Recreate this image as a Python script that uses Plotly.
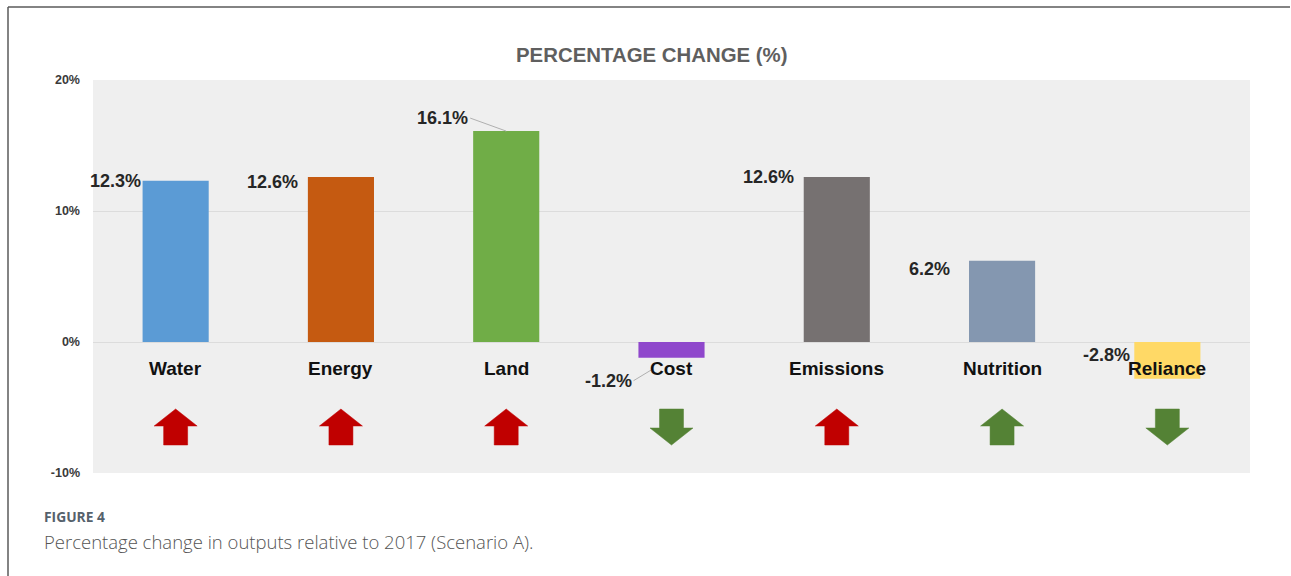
import plotly.graph_objects as go

# ---- data -------------------------------------------------------------
categories = ["Water", "Energy", "Land", "Cost", "Emissions", "Nutrition", "Reliance"]
pct_change = [12.3, 12.6, 16.1, -1.2, 12.6, 6.2, -2.8]
value_labels = ["12.3%", "12.6%", "16.1%", "-1.2%", "12.6%", "6.2%", "-2.8%"]
trend = ["up", "up", "up", "down", "up", "up", "down"]
trend_good = [False, False, False, True, False, True, True]
y_ticks = [-10, 0, 10, 20]
y_tick_text = ["-10%", "0%", "10%", "20%"]

# ---- styling ----------------------------------------------------------
bar_colors = ["#5B9BD5", "#C55A11", "#70AD47", "#8F47CC", "#767171", "#8497B0", "#FFD966"]
RED = "#C00000"
GREEN = "#548235"
# label offsets in px (x shift, y shift) relative to the bar's outer corner
label_shift = [(0, 0), (-8, -5), (-3, 13), (-5, -23), (-8, 0), (-17, -8), (-2, 24)]

W, H = 1291, 576
M = dict(l=93, r=41, t=80, b=103)
PW = W - M["l"] - M["r"]
PH = H - M["t"] - M["b"]
X_RANGE = [-0.5, len(categories) - 0.5]
Y_RANGE = [-10, 20]
x_per_px = (X_RANGE[1] - X_RANGE[0]) / PW
y_per_px = (Y_RANGE[1] - Y_RANGE[0]) / PH
BAR_W = 0.4

xs = list(range(len(categories)))

fig = go.Figure()
fig.add_trace(go.Bar(
    x=xs, y=pct_change, width=BAR_W,
    marker=dict(color=bar_colors, line=dict(width=0)),
    hoverinfo="skip", showlegend=False,
))

BOLD = "Liberation Sans"
annotations = []

# value labels, sitting to the left of each bar
for i, (v, txt, (dx, dy)) in enumerate(zip(pct_change, value_labels, label_shift)):
    if i in (2, 3):
        continue
    annotations.append(dict(
        x=i - BAR_W / 2, y=v, xref="x", yref="y", text=txt, showarrow=False,
        xanchor="right", yanchor="middle", xshift=dx, yshift=dy,
        font=dict(family=BOLD, size=18, color="#262626", weight="bold"),
    ))

# labels with leader lines
annotations.append(dict(
    x=2, y=pct_change[2], xref="x", yref="y", text=value_labels[2],
    showarrow=True, arrowhead=0, arrowwidth=1, arrowcolor="#b0b0b0",
    ax=-36, ay=-13, xanchor="right", yanchor="middle", standoff=0,
    font=dict(family=BOLD, size=18, color="#262626", weight="bold"),
))
annotations.append(dict(
    x=3, y=pct_change[3], xref="x", yref="y", text=value_labels[3],
    showarrow=True, arrowhead=0, arrowwidth=1, arrowcolor="#b0b0b0",
    ax=-38, ay=23, xanchor="right", yanchor="middle", standoff=24,
    font=dict(family=BOLD, size=18, color="#262626", weight="bold"),
))

# category names just below the zero line
for i, c in enumerate(categories):
    annotations.append(dict(
        x=i, y=0, xref="x", yref="y", text=c, showarrow=False,
        yanchor="middle", yshift=-26,
        font=dict(family=BOLD, size=19, color="#111111", weight="bold"),
    ))

# chart heading
annotations.append(dict(
    x=(652 - M["l"]) / PW, y=(PH + M["t"] - 55) / PH, xref="paper", yref="paper",
    text="PERCENTAGE CHANGE (%)", showarrow=False, xanchor="center", yanchor="middle",
    font=dict(family=BOLD, size=20.4, color="#5f5f5f", weight="bold"),
))

# figure caption
annotations.append(dict(
    x=(42 - M["l"]) / PW, y=(PH + M["t"] - 516) / PH, xref="paper", yref="paper",
    text="FIGURE 4", showarrow=False, xanchor="left", yanchor="middle",
    font=dict(family="Open Sans", size=13.8, color="#55616c", weight="bold"),
))
annotations.append(dict(
    x=(42 - M["l"]) / PW, y=(PH + M["t"] - 541) / PH, xref="paper", yref="paper",
    text="Percentage change in outputs relative to 2017 (Scenario A).", showarrow=False,
    xanchor="left", yanchor="middle",
    font=dict(family="Open Sans", size=18.5, color="#555555", weight=300),
))

# trend arrows under each category
shapes = []
ARROW_TOP_PX, HEAD_PX, ARROW_LEN_PX = 67, 17, 36
HALF_W_PX, SHAFT_HALF_PX = 21.5, 12
for i, (d, good) in enumerate(zip(trend, trend_good)):
    hw = HALF_W_PX * x_per_px
    sw = SHAFT_HALF_PX * x_per_px
    top = -ARROW_TOP_PX * y_per_px
    bot = -(ARROW_TOP_PX + ARROW_LEN_PX) * y_per_px
    if d == "up":
        neck = top - HEAD_PX * y_per_px
        pts = [(i, top), (i + hw, neck), (i + sw, neck), (i + sw, bot),
               (i - sw, bot), (i - sw, neck), (i - hw, neck)]
    else:
        neck = bot + HEAD_PX * y_per_px
        pts = [(i, bot), (i + hw, neck), (i + sw, neck), (i + sw, top),
               (i - sw, top), (i - sw, neck), (i - hw, neck)]
    path = "M " + " L ".join(f"{px:.4f},{py:.4f}" for px, py in pts) + " Z"
    col = GREEN if good else RED
    shapes.append(dict(type="path", path=path, xref="x", yref="y",
                       fillcolor=col, line=dict(color=col, width=0.5), layer="above"))

# outer frame (top and left edges)
fx0 = (8 - M["l"]) / PW
fx1 = (W - 1 - M["l"]) / PW
fy_top = (PH + M["t"] - 7) / PH
fy_bot = (PH + M["t"] - H) / PH
shapes.append(dict(type="line", xref="paper", yref="paper", x0=fx0, x1=fx1,
                   y0=fy_top, y1=fy_top, line=dict(color="#5a5a5a", width=1.5)))
shapes.append(dict(type="line", xref="paper", yref="paper", x0=fx0, x1=fx0,
                   y0=fy_top, y1=fy_bot, line=dict(color="#5a5a5a", width=1.5)))

fig.update_layout(
    width=W, height=H, margin=M,
    paper_bgcolor="white", plot_bgcolor="#efefef",
    bargap=0.6, showlegend=False,
    annotations=annotations, shapes=shapes,
    xaxis=dict(range=X_RANGE, showticklabels=False, showgrid=False,
               zeroline=False, showline=False, ticks=""),
    yaxis=dict(range=Y_RANGE, tickvals=y_ticks, ticktext=y_tick_text,
               showgrid=True, gridcolor="#dcdcdc", gridwidth=1,
               zeroline=False, showline=False, ticks="", ticklabelstandoff=12,
               tickfont=dict(family=BOLD, size=12.5, color="#3a3a3a", weight="bold")),
)

fig.write_html("out.html")
